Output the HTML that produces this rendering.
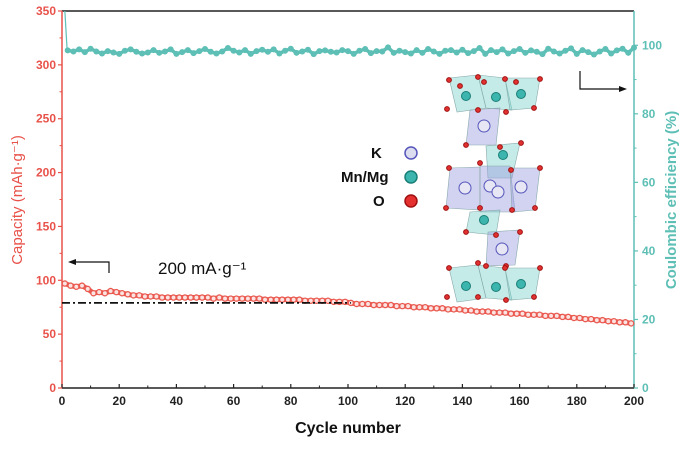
<!DOCTYPE html>
<html><head><meta charset="utf-8"><style>
body{margin:0;background:#fff;}
svg{font-family:"Liberation Sans",Arial,sans-serif;}
</style></head><body>
<svg id="chart" width="687" height="444" viewBox="0 0 687 444">
<g id="crystal"></g>
<g id="plot"></g>
</svg>
<script>
const capCycles=[];for(let c=1;c<=200;c+=2)capCycles.push(c);
const capacity=[97,95,94,95,92,88,89,88,90,89,88,87,86,86,85,85,85,84,84,84,
84,84,84,84,84,84,83,84,83,83,83,83,83,83,83,82,82,82,82,82,
82,82,81,81,81,81,81,80,80,80,79,78,78,78,77,77,77,77,76,76,
76,75,75,75,74,74,74,73,73,73,72,72,71,71,71,70,70,70,69,69,
69,68,68,68,67,67,67,66,66,65,65,64,64,63,63,62,62,61,61,60];
const ceCycles=[];for(let c=2;c<=200;c+=2)ceCycles.push(c);
const efficiency=[98.5,98.2,98.8,98,99,98.2,97.6,98.3,97.9,97.5,98.4,98.8,98.1,97.6,97.9,98.6,97.8,98.2,98.8,97.5,
98,98.6,97.7,98.3,98.9,98.1,97.6,98.2,99.2,98.4,97.9,98.6,97.5,98.3,98.7,98.1,98.8,97.6,98.4,99,
97.8,98.2,98.7,97.4,98.3,98.5,98.1,97.9,98.6,98.3,97.5,98.4,98.9,97.7,98.3,98.2,99.4,97.8,98.4,98,
97.6,98.6,97.8,98.9,98.2,97.5,98.4,98.6,97.9,98.7,97.7,98.3,99.2,97.5,98.6,98,98.8,97.6,98.3,98.9,
97.8,98.5,98.1,97.4,99,98.2,97.6,98.4,99.1,97.5,98.6,98,97.3,98.2,98.9,97.6,98.5,99,97.8,99.3];
const xTicks=[0,20,40,60,80,100,120,140,160,180,200];
const yLeftTicks=[0,50,100,150,200,250,300,350];
const yRightTicks=[0,20,40,60,80,100];
const refLine=79;

const NS="http://www.w3.org/2000/svg";
const L=62,R=634,T=11,B=388;
const xs=v=>L+(v/200)*(R-L);
const yl=v=>B-(v/350)*(B-T);
const yr=v=>B-(v/110)*(B-T);
const plot=document.getElementById('plot');
function mk(tag,attrs,parent){const e=document.createElementNS(NS,tag);for(const k in attrs)e.setAttribute(k,attrs[k]);(parent||plot).appendChild(e);return e;}
function txt(s,attrs,parent){const e=mk('text',attrs,parent);e.textContent=s;return e;}

let e=mk('line',{x1:L,y1:T,x2:R,y2:T,stroke:'#222','stroke-width':1.5});

e=mk('line',{x1:L,y1:B,x2:R,y2:B,stroke:'#222','stroke-width':1.5});

e=mk('line',{x1:L,y1:T,x2:L,y2:B,stroke:'#e8524a','stroke-width':1.5});

e=mk('line',{x1:R,y1:T,x2:R,y2:B,stroke:'#5dbfb5','stroke-width':1.5});


xTicks.forEach(v=>{
 mk('line',{x1:xs(v),y1:B,x2:xs(v),y2:B-4,stroke:'#222','stroke-width':1.2});
 const t=txt(v,{x:xs(v),y:B+17,'text-anchor':'middle','font-size':12,'font-weight':'bold',fill:'#222'});
 
});
for(let v=10;v<200;v+=20)mk('line',{x1:xs(v),y1:B,x2:xs(v),y2:B-2.5,stroke:'#222'});
yLeftTicks.forEach(v=>{
 mk('line',{x1:L,y1:yl(v),x2:L-4,y2:yl(v),stroke:'#e8524a','stroke-width':1.2});
 const t=txt(v,{x:L-6,y:yl(v)+4,'text-anchor':'end','font-size':12,'font-weight':'bold',fill:'#e8524a'});
 
});
for(let v=25;v<350;v+=50)mk('line',{x1:L,y1:yl(v),x2:L-2.5,y2:yl(v),stroke:'#e8524a'});
yRightTicks.forEach(v=>{
 mk('line',{x1:R,y1:yr(v),x2:R+4,y2:yr(v),stroke:'#5dbfb5','stroke-width':1.2});
 const t=txt(v,{x:R+8,y:yr(v)+4,'font-size':12,'font-weight':'bold',fill:'#5dbfb5'});
 
});
for(let v=10;v<110;v+=20)mk('line',{x1:R,y1:yr(v),x2:R+2.5,y2:yr(v),stroke:'#5dbfb5'});

e=txt('Cycle number',{x:(L+R)/2,y:433,'text-anchor':'middle','font-size':16,'font-weight':'bold',fill:'#111'});

e=txt('Capacity (mAh·g⁻¹)',{x:0,y:0,transform:'translate(22,200) rotate(-90)','text-anchor':'middle','font-size':15,fill:'#e8524a'});

e=txt('Coulombic efficiency (%)',{x:0,y:0,transform:'translate(676,200) rotate(-90)','text-anchor':'middle','font-size':15,'font-weight':'bold',fill:'#5dbfb5'});


// CE series
const ceG=mk('g',{});

mk('line',{x1:xs(1),y1:T,x2:xs(1.8),y2:yr(efficiency[0]),stroke:'#5dbfb5','stroke-width':1.2},ceG);
e=mk('polyline',{points:ceCycles.map((c,i)=>xs(c)+','+yr(efficiency[i])).join(' '),fill:'none',stroke:'#5dbfb5','stroke-width':3.5,'stroke-linejoin':'round'},ceG);

ceCycles.forEach((c,i)=>{
 const p=mk('circle',{cx:xs(c),cy:yr(efficiency[i]),r:3,fill:'#5dbfb5'},ceG);
 
});
// capacity series
const capG=mk('g',{});

e=mk('polyline',{points:capCycles.map((c,i)=>xs(c)+','+yl(capacity[i])).join(' '),fill:'none',stroke:'#ea5a50','stroke-width':5,'stroke-linejoin':'round'},capG);

capCycles.forEach((c,i)=>{
 const p=mk('circle',{cx:xs(c),cy:yl(capacity[i]),r:2.6,fill:'#fbe3e1',stroke:'#ea5a50','stroke-width':1.3},capG);
 
});
e=mk('line',{x1:xs(0),y1:yl(refLine),x2:xs(101),y2:yl(refLine),stroke:'#111','stroke-width':1.8,'stroke-dasharray':'8 3 2 3'});


e=mk('path',{d:'M109,273 V262 H72',fill:'none',stroke:'#111','stroke-width':1.2});

mk('polygon',{points:'68,262 76,259 76,265',fill:'#111'});
e=mk('path',{d:'M580,71 V89 H622',fill:'none',stroke:'#111','stroke-width':1.2});

mk('polygon',{points:'627,89 619,86 619,92',fill:'#111'});
e=txt('200 mA·g⁻¹',{x:158,y:274,'font-size':17,fill:'#111'});


const lg=mk('g',{});
const leg=[['K',153,'#ddddf0','#5555bb'],['Mn/Mg',177,'#3bb5ad','#1a7e78'],['O',201,'#e53030','#a01010']];
leg.forEach(([n,y,f,s])=>{
 const t=txt(n,{x:n==='K'?371:n==='O'?373:341,y:y+5,'font-size':15,'font-weight':'bold',fill:'#111'},lg);
 
 const c=mk('circle',{cx:411,cy:y,r:6,fill:f,stroke:s,'stroke-width':1.5},lg);
 
});

const cr=document.getElementById('crystal');
function poly(pts,fill){mk('polygon',{points:pts,fill:fill,'fill-opacity':0.45,stroke:'#8aa','stroke-width':0.6},cr);}
function ball(x,y,r,f,s){mk('circle',{cx:x,cy:y,r:r,fill:f,stroke:s,'stroke-width':1},cr);}
const tl='#7fd3cc',pu='#9b9be0';
[[78],[268]].forEach(([y0])=>{
 poly(`449,${y0} 478,${y0-3} 486,${y0+30} 457,${y0+34}`,tl);
 poly(`478,${y0-3} 505,${y0} 512,${y0+32} 486,${y0+30}`,tl);
 poly(`505,${y0} 540,${y0} 535,${y0+30} 510,${y0+32}`,tl);
 ball(466,y0+18,4.5,'#3bb5ad','#1a7e78');ball(496,y0+19,4.5,'#3bb5ad','#1a7e78');ball(521,y0+16,4.5,'#3bb5ad','#1a7e78');
});
poly('470,110 500,108 496,145 466,145',pu);ball(484,126,6,'#e6e6f4','#5555bb');
poly('486,146 520,143 512,178 488,178',tl);ball(503,155,4.5,'#3bb5ad','#1a7e78');
poly('450,168 480,167 480,210 446,208',pu);poly('480,166 510,166 515,212 480,212',pu);poly('510,168 540,168 535,210 512,212',pu);
ball(465,188,6,'#e6e6f4','#5555bb');ball(490,186,6,'#e6e6f4','#5555bb');ball(498,192,6,'#e6e6f4','#5555bb');ball(521,187,6,'#e6e6f4','#5555bb');
poly('470,212 500,210 496,235 466,232',tl);ball(484,220,4.5,'#3bb5ad','#1a7e78');
poly('488,232 520,230 515,265 486,266',pu);ball(502,249,6,'#e6e6f4','#5555bb');
const ox=[[449,80],[478,77],[505,79],[540,79],[460,86],[484,82],[516,82],[447,109],[478,110],[506,112],[534,108],[466,145],[500,147],[521,143],[449,168],[480,163],[511,170],[540,168],[446,208],[480,208],[512,210],[535,208],[466,232],[496,235],[520,232],[486,266],[506,266],[449,268],[478,263],[505,268],[540,268],[447,297],[478,297],[506,300],[534,297]];
ox.forEach(([x,y])=>ball(x,y,2.4,'#e03030','#a01010'));
</script>
</body></html>
